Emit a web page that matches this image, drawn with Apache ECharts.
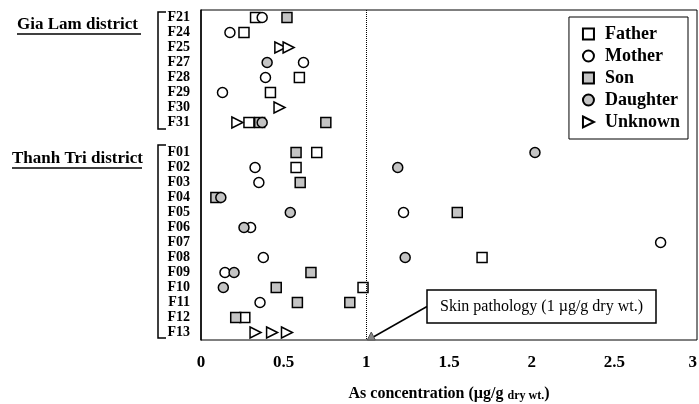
<!DOCTYPE html>
<html>
<head>
<meta charset="utf-8">
<script src="https://cdn.jsdelivr.net/npm/echarts@6/dist/echarts.min.js"></script>
<style>
  html, body { margin: 0; padding: 0; background: #fff; }
  #main { width: 699px; height: 404px; }
</style>
</head>
<body>
<div id="main"></div>
<script>
// families, top to bottom ('' is the gap between districts)
var families = ['F21', 'F24', 'F25', 'F27', 'F28', 'F29', 'F30', 'F31', '',
  'F01', 'F02', 'F03', 'F04', 'F05', 'F06', 'F07', 'F08', 'F09', 'F10', 'F11', 'F12', 'F13'];

// [family, As concentration]
var father = [['F21', 0.33], ['F24', 0.26], ['F28', 0.595], ['F29', 0.42], ['F31', 0.29],
  ['F01', 0.70], ['F02', 0.575], ['F08', 1.70], ['F10', 0.98], ['F12', 0.265]];
var mother = [['F21', 0.37], ['F24', 0.175], ['F27', 0.62], ['F28', 0.39], ['F29', 0.13],
  ['F02', 0.327], ['F03', 0.35], ['F05', 1.225], ['F06', 0.30], ['F07', 2.78],
  ['F08', 0.377], ['F09', 0.145], ['F11', 0.357]];
var son = [['F21', 0.52], ['F31', 0.355], ['F31', 0.755], ['F01', 0.575], ['F03', 0.60],
  ['F04', 0.09], ['F05', 1.55], ['F09', 0.665], ['F10', 0.455], ['F11', 0.583],
  ['F11', 0.90], ['F12', 0.21]];
var daughter = [['F27', 0.40], ['F31', 0.37], ['F01', 2.02], ['F02', 1.19], ['F04', 0.12],
  ['F05', 0.54], ['F06', 0.26], ['F08', 1.235], ['F09', 0.20], ['F10', 0.135]];
var unknown = [['F25', 0.48], ['F25', 0.53], ['F30', 0.475], ['F31', 0.22],
  ['F13', 0.33], ['F13', 0.43], ['F13', 0.52]];

var xTicks = [0, 0.5, 1, 1.5, 2, 2.5, 3];
var skinLimit = 1;

var serif = 'Liberation Serif';
var chart = echarts.init(document.getElementById('main'));

function pts(arr) {
  return arr.map(function (d) { return [d[1], d[0]]; });
}

function mk(name, data, symbol, size, fill) {
  return {
    name: name,
    type: 'scatter',
    data: pts(data),
    symbol: symbol,
    symbolSize: size,
    itemStyle: { color: fill, borderColor: '#000', borderWidth: 1.5, opacity: 1 },
    emphasis: { disabled: true },
    silent: true
  };
}

var triangle = 'path://M0,0 L10,5 L0,10 Z';

var series = [
  mk('Father', father, 'rect', 10, '#fff'),
  mk('Mother', mother, 'circle', 10, '#fff'),
  mk('Son', son, 'rect', 10, '#c4c4c4'),
  mk('Daughter', daughter, 'circle', 10, '#c4c4c4'),
  mk('Unknown', unknown, triangle, [11, 11], '#fff')
];
series[0].markLine = {
  silent: true,
  symbol: 'none',
  label: { show: false },
  lineStyle: { type: 'dotted', color: '#000', width: 1 },
  data: [{ xAxis: skinLimit }]
};

var option = {
  animation: false,
  backgroundColor: '#fff',
  grid: {
    left: 201, right: 2, top: 10, bottom: 64,
    outerBoundsMode: 'none',
    containLabel: false,
    show: true, borderColor: '#000', borderWidth: 1
  },
  legend: {
    orient: 'vertical',
    right: 11, top: 17,
    padding: [8, 8, 8, 13],
    itemGap: 4,
    itemWidth: 11, itemHeight: 11,
    borderColor: '#000', borderWidth: 1,
    backgroundColor: '#fff',
    textStyle: { fontFamily: serif, fontWeight: 'bold', fontSize: 18, color: '#000', padding: [0, 0, 0, 6] },
    data: ['Father', 'Mother', 'Son', 'Daughter', 'Unknown']
  },
  xAxis: {
    type: 'value',
    min: xTicks[0], max: xTicks[xTicks.length - 1], interval: 0.5,
    axisLine: { lineStyle: { color: '#000', width: 1.5 } },
    axisTick: { inside: true, length: 5, lineStyle: { color: '#000' } },
    splitLine: { show: false },
    axisLabel: { fontFamily: serif, fontWeight: 'bold', fontSize: 17, color: '#000', margin: 14, alignMaxLabel: 'right' },
    name: 'As concentration (\u00b5g/g {s|dry wt.})',
    nameLocation: 'middle',
    nameGap: 45,
    nameTextStyle: {
      fontFamily: serif, fontWeight: 'bold', fontSize: 16, color: '#000',
      rich: { s: { fontFamily: serif, fontWeight: 'bold', fontSize: 12, color: '#000', verticalAlign: 'bottom', padding: [5, 0, 0, 0] } }
    }
  },
  yAxis: {
    type: 'category',
    data: families,
    inverse: true,
    boundaryGap: true,
    axisLine: { lineStyle: { color: '#000', width: 1.5 } },
    axisTick: { inside: true, length: 7, interval: 0, lineStyle: { color: '#000' } },
    axisLabel: { fontFamily: serif, fontWeight: 'bold', fontSize: 14, color: '#000', margin: 11, interval: 0 },
    splitLine: { show: false }
  },
  series: series
};
chart.setOption(option);

// annotation arrow tip on the x axis, just right of the skin pathology line
var tip = chart.convertToPixel({ gridIndex: 0 }, [1.03, 'F13']);
var tipY = 404 - 64 - 3;
var box = { x: 427, y: 290, w: 229, h: 33 };

var lineStyle = { stroke: '#000', lineWidth: 1.5 };
function hline(x1, y1, x2, y2) {
  return { type: 'line', silent: true, shape: { x1: x1, y1: y1, x2: x2, y2: y2 }, style: lineStyle };
}

chart.setOption({
  graphic: [
    // district labels
    { type: 'text', left: 17, top: 16, silent: true,
      style: { text: 'Gia Lam district', font: 'bold 17px "' + serif + '"', fill: '#000' } },
    hline(17, 34, 141, 34),
    { type: 'text', left: 12, top: 150, silent: true,
      style: { text: 'Thanh Tri district', font: 'bold 17px "' + serif + '"', fill: '#000' } },
    hline(12, 168, 142, 168),
    // brackets
    { type: 'polyline', silent: true, shape: { points: [[166, 12], [158, 12], [158, 129], [166, 129]] }, style: { stroke: '#000', lineWidth: 1.5, fill: null } },
    { type: 'polyline', silent: true, shape: { points: [[166, 145], [158, 145], [158, 338], [166, 338]] }, style: { stroke: '#000', lineWidth: 1.5, fill: null } },
    // annotation
    hline(box.x, box.y + box.h / 2, tip[0] + 2, tipY),
    { type: 'polygon', silent: true,
      shape: { points: [[tip[0], tipY - 5], [tip[0] - 4, tipY + 3], [tip[0] + 4, tipY + 3]] },
      style: { fill: '#888', stroke: '#555', lineWidth: 1 } },
    { type: 'rect', silent: true, shape: { x: box.x, y: box.y, width: box.w, height: box.h },
      style: { fill: '#fff', stroke: '#000', lineWidth: 1.5 } },
    { type: 'text', silent: true, x: box.x + box.w / 2, y: box.y + box.h / 2,
      style: { text: 'Skin pathology (1 \u00b5g/g dry wt.)', font: '16px "' + serif + '"', fill: '#000',
        align: 'center', verticalAlign: 'middle' } }
  ]
});
</script>
</body>
</html>
